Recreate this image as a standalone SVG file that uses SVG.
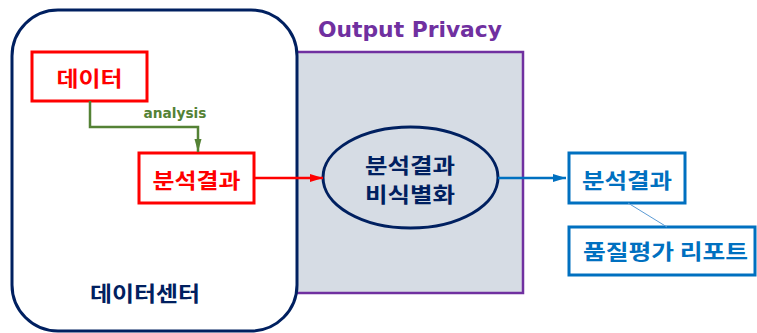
<svg xmlns="http://www.w3.org/2000/svg" width="757" height="333" viewBox="0 0 757 333">
  <style>
    .ko { font-family: "Noto Sans CJK KR", "Noto Sans", sans-serif; font-weight: bold; font-size: 21px; text-anchor: middle; dominant-baseline: central; }
    .red-box { fill: #ffffff; stroke: #ff0000; stroke-width: 3; }
    .blue-box { fill: #ffffff; stroke: #0070c0; stroke-width: 3; }
    .navy { fill: #002060; }
  </style>
  <defs>
    <marker id="head-red" markerUnits="userSpaceOnUse" markerWidth="14" markerHeight="10" refX="13" refY="5" orient="auto">
      <path d="M0,1 L13,5 L0,9 Z" fill="#ff0000"/>
    </marker>
    <marker id="head-blue" markerUnits="userSpaceOnUse" markerWidth="14" markerHeight="10" refX="13" refY="5" orient="auto">
      <path d="M0,1 L13,5 L0,9 Z" fill="#0070c0"/>
    </marker>
    <marker id="head-green" markerUnits="userSpaceOnUse" markerWidth="14" markerHeight="10" refX="13" refY="5" orient="auto">
      <path d="M0,1.5 L13,5 L0,8.5 Z" fill="#548235"/>
    </marker>
  </defs>

  <rect width="757" height="333" fill="#ffffff"/>

  <!-- privacy zone -->
  <g id="output-privacy">
    <rect x="290" y="52" width="233" height="241" fill="#d6dce4" stroke="#7030a0" stroke-width="2.5"/>
    <text x="410" y="37" font-family="'DejaVu Sans', sans-serif" font-weight="bold" font-size="21" fill="#7030a0" text-anchor="middle" textLength="184" lengthAdjust="spacingAndGlyphs">Output Privacy</text>
  </g>

  <!-- data center container -->
  <g id="data-center">
    <rect x="12" y="10" width="285" height="321" rx="46" ry="46" fill="#ffffff" stroke="#002060" stroke-width="3"/>
    <text class="ko navy" x="145" y="292" textLength="110" lengthAdjust="spacingAndGlyphs">데이터센터</text>
  </g>

  <g id="data">
    <rect class="red-box" x="32" y="52" width="115" height="49"/>
    <text class="ko" x="89.5" y="77" fill="#ff0000" textLength="66" lengthAdjust="spacingAndGlyphs">데이터</text>
  </g>

  <g id="analysis-result">
    <rect class="red-box" x="139" y="153" width="115" height="50"/>
    <text class="ko" x="196.5" y="179" fill="#ff0000" textLength="88" lengthAdjust="spacingAndGlyphs">분석결과</text>
  </g>

  <g id="deidentify">
    <ellipse cx="410.5" cy="177.5" rx="87.5" ry="50.5" fill="#d6dce4" stroke="#002060" stroke-width="3"/>
    <text class="ko navy" x="410" y="164" textLength="90" lengthAdjust="spacingAndGlyphs">분석결과</text>
    <text class="ko navy" x="410" y="193" textLength="90" lengthAdjust="spacingAndGlyphs">비식별화</text>
  </g>

  <g id="result-out">
    <rect class="blue-box" x="569" y="153" width="116" height="50"/>
    <text class="ko" x="627" y="179" fill="#0070c0" textLength="90" lengthAdjust="spacingAndGlyphs">분석결과</text>
  </g>

  <g id="quality-report">
    <rect class="blue-box" x="569" y="227" width="186" height="48"/>
    <text class="ko" x="665.5" y="250" fill="#0070c0" textLength="165" lengthAdjust="spacingAndGlyphs">품질평가 리포트</text>
  </g>

  <!-- connectors -->
  <g id="connectors" fill="none">
    <polyline points="90,101 90,127 198,127 198,152" stroke="#548235" stroke-width="2.5" marker-end="url(#head-green)"/>
    <text x="175" y="118" font-family="'DejaVu Sans', sans-serif" font-weight="bold" font-size="14" fill="#548235" text-anchor="middle" textLength="63" lengthAdjust="spacingAndGlyphs">analysis</text>
    <line x1="254" y1="178" x2="323" y2="178" stroke="#ff0000" stroke-width="2.5" marker-end="url(#head-red)"/>
    <line x1="498" y1="178" x2="566" y2="178" stroke="#0070c0" stroke-width="2.5" marker-end="url(#head-blue)"/>
    <line x1="628" y1="203" x2="667" y2="227" stroke="#5b9bd5" stroke-width="1"/>
  </g>
</svg>
